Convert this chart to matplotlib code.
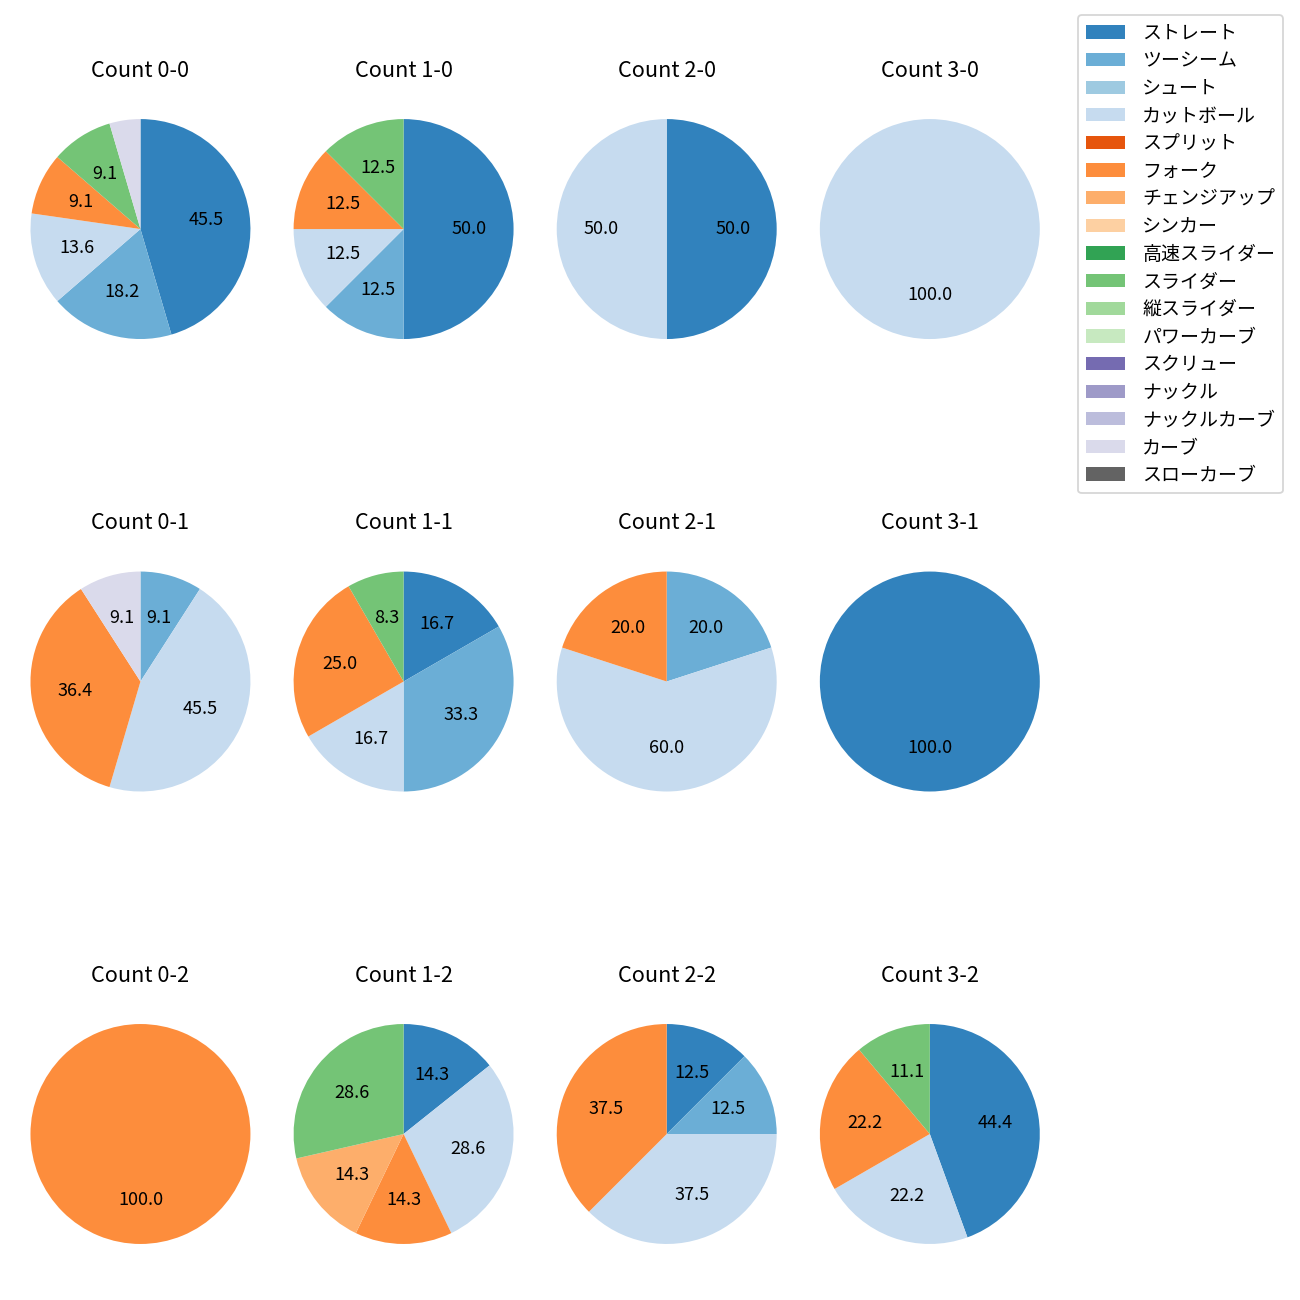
#!/usr/bin/env python3
"""Pitch mix by ball-strike count, one pie per count."""

import matplotlib

matplotlib.use("Agg")
import matplotlib.pyplot as plt
from matplotlib.patches import Patch

plt.rcParams["font.family"] = ["Noto Sans CJK JP", "DejaVu Sans"]

pitch_types = [
    "ストレート", "ツーシーム", "シュート", "カットボール", "スプリット",
    "フォーク", "チェンジアップ", "シンカー", "高速スライダー", "スライダー",
    "縦スライダー", "パワーカーブ", "スクリュー", "ナックル", "ナックルカーブ",
    "カーブ", "スローカーブ",
]

# pitch counts per ball-strike count, in pitch_types order
count_0_0 = [10, 4, 0, 3, 0, 2, 0, 0, 0, 2, 0, 0, 0, 0, 0, 1, 0]
count_1_0 = [4, 1, 0, 1, 0, 1, 0, 0, 0, 1, 0, 0, 0, 0, 0, 0, 0]
count_2_0 = [1, 0, 0, 1, 0, 0, 0, 0, 0, 0, 0, 0, 0, 0, 0, 0, 0]
count_3_0 = [0, 0, 0, 1, 0, 0, 0, 0, 0, 0, 0, 0, 0, 0, 0, 0, 0]
count_0_1 = [0, 1, 0, 5, 0, 4, 0, 0, 0, 0, 0, 0, 0, 0, 0, 1, 0]
count_1_1 = [2, 4, 0, 2, 0, 3, 0, 0, 0, 1, 0, 0, 0, 0, 0, 0, 0]
count_2_1 = [0, 1, 0, 3, 0, 1, 0, 0, 0, 0, 0, 0, 0, 0, 0, 0, 0]
count_3_1 = [1, 0, 0, 0, 0, 0, 0, 0, 0, 0, 0, 0, 0, 0, 0, 0, 0]
count_0_2 = [0, 0, 0, 0, 0, 1, 0, 0, 0, 0, 0, 0, 0, 0, 0, 0, 0]
count_1_2 = [1, 0, 0, 2, 0, 1, 1, 0, 0, 2, 0, 0, 0, 0, 0, 0, 0]
count_2_2 = [1, 1, 0, 3, 0, 3, 0, 0, 0, 0, 0, 0, 0, 0, 0, 0, 0]
count_3_2 = [4, 0, 0, 2, 0, 2, 0, 0, 0, 1, 0, 0, 0, 0, 0, 0, 0]

grid = [
    [("0-0", count_0_0), ("1-0", count_1_0), ("2-0", count_2_0), ("3-0", count_3_0)],
    [("0-1", count_0_1), ("1-1", count_1_1), ("2-1", count_2_1), ("3-1", count_3_1)],
    [("0-2", count_0_2), ("1-2", count_1_2), ("2-2", count_2_2), ("3-2", count_3_2)],
]

cmap = plt.get_cmap("tab20c")
colors = [cmap(i) for i in range(len(pitch_types))]


def _pct(p):
    return f"{p:.1f}" if p >= 5 else ""


fig, axes = plt.subplots(3, 4, figsize=(10, 10), dpi=130)
fig.subplots_adjust(left=0.0023, right=0.821, top=0.9296, bottom=0.0219,
                    wspace=-0.043, hspace=0.645)

for r, row in enumerate(grid):
    for c, (label, values) in enumerate(row):
        ax = axes[r][c]
        keep = [i for i, v in enumerate(values) if v > 0]
        ax.pie([values[i] for i in keep], colors=[colors[i] for i in keep],
               startangle=90, counterclock=False, autopct=_pct,
               textprops={"fontsize": 10})
        ax.set_title(f"Count {label}", fontsize=12, pad=8.2)

handles = [Patch(facecolor=col, label=name) for name, col in zip(pitch_types, colors)]
fig.legend(handles=handles, loc="upper right",
           bbox_to_anchor=(1283 / 1300, 1 - 15 / 1300), borderaxespad=0,
           fontsize=10.5, labelspacing=0.35, handlelength=2.1, handletextpad=0.9)

fig.savefig("out.png", dpi=130)
